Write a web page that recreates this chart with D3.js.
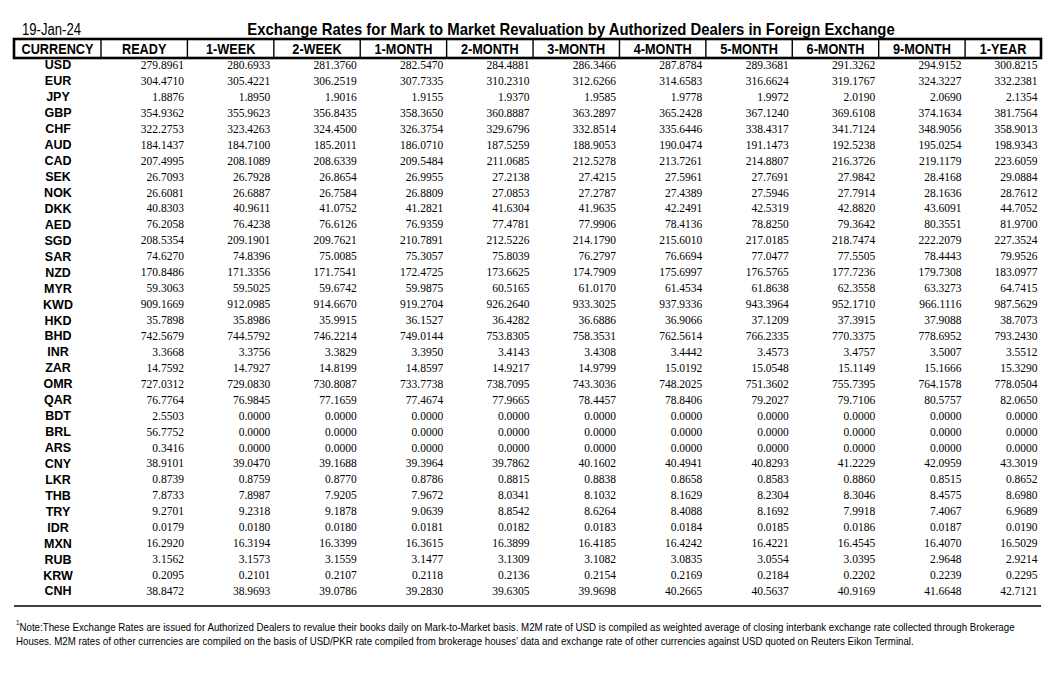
<!DOCTYPE html>
<html>
<head>
<meta charset="utf-8">
<script src="https://cdn.jsdelivr.net/npm/d3@7"></script>
<style>
  html, body { margin: 0; padding: 0; background: #fff; }
  svg { display: block; }
</style>
</head>
<body>
<svg id="chart" width="1064" height="681"></svg>
<script>
const dateLabel = "19-Jan-24";
const title = "Exchange Rates for Mark to Market Revaluation by Authorized Dealers in Foreign Exchange";
const firstHeader = "CURRENCY";
const tenors = ["READY","1-WEEK","2-WEEK","1-MONTH","2-MONTH","3-MONTH","4-MONTH","5-MONTH","6-MONTH","9-MONTH","1-YEAR"];
const currencies = ["USD","EUR","JPY","GBP","CHF","AUD","CAD","SEK","NOK","DKK","AED","SGD","SAR","NZD","MYR","KWD","HKD","BHD","INR","ZAR","OMR","QAR","BDT","BRL","ARS","CNY","LKR","THB","TRY","IDR","MXN","RUB","KRW","CNH"];

const ready   = [279.8961,304.4710,1.8876,354.9362,322.2753,184.1437,207.4995,26.7093,26.6081,40.8303,76.2058,208.5354,74.6270,170.8486,59.3063,909.1669,35.7898,742.5679,3.3668,14.7592,727.0312,76.7764,2.5503,56.7752,0.3416,38.9101,0.8739,7.8733,9.2701,0.0179,16.2920,3.1562,0.2095,38.8472];
const week1   = [280.6933,305.4221,1.8950,355.9623,323.4263,184.7100,208.1089,26.7928,26.6887,40.9611,76.4238,209.1901,74.8396,171.3356,59.5025,912.0985,35.8986,744.5792,3.3756,14.7927,729.0830,76.9845,0,0,0,39.0470,0.8759,7.8987,9.2318,0.0180,16.3194,3.1573,0.2101,38.9693];
const week2   = [281.3760,306.2519,1.9016,356.8435,324.4500,185.2011,208.6339,26.8654,26.7584,41.0752,76.6126,209.7621,75.0085,171.7541,59.6742,914.6670,35.9915,746.2214,3.3829,14.8199,730.8087,77.1659,0,0,0,39.1688,0.8770,7.9205,9.1878,0.0180,16.3399,3.1559,0.2107,39.0786];
const month1  = [282.5470,307.7335,1.9155,358.3650,326.3754,186.0710,209.5484,26.9955,26.8809,41.2821,76.9359,210.7891,75.3057,172.4725,59.9875,919.2704,36.1527,749.0144,3.3950,14.8597,733.7738,77.4674,0,0,0,39.3964,0.8786,7.9672,9.0639,0.0181,16.3615,3.1477,0.2118,39.2830];
const month2  = [284.4881,310.2310,1.9370,360.8887,329.6796,187.5259,211.0685,27.2138,27.0853,41.6304,77.4781,212.5226,75.8039,173.6625,60.5165,926.2640,36.4282,753.8305,3.4143,14.9217,738.7095,77.9665,0,0,0,39.7862,0.8815,8.0341,8.8542,0.0182,16.3899,3.1309,0.2136,39.6305];
const month3  = [286.3466,312.6266,1.9585,363.2897,332.8514,188.9053,212.5278,27.4215,27.2787,41.9635,77.9906,214.1790,76.2797,174.7909,61.0170,933.3025,36.6886,758.3531,3.4308,14.9799,743.3036,78.4457,0,0,0,40.1602,0.8838,8.1032,8.6264,0.0183,16.4185,3.1082,0.2154,39.9698];
const month4  = [287.8784,314.6583,1.9778,365.2428,335.6446,190.0474,213.7261,27.5961,27.4389,42.2491,78.4136,215.6010,76.6694,175.6997,61.4534,937.9336,36.9066,762.5614,3.4442,15.0192,748.2025,78.8406,0,0,0,40.4941,0.8658,8.1629,8.4088,0.0184,16.4242,3.0835,0.2169,40.2665];
const month5  = [289.3681,316.6624,1.9972,367.1240,338.4317,191.1473,214.8807,27.7691,27.5946,42.5319,78.8250,217.0185,77.0477,176.5765,61.8638,943.3964,37.1209,766.2335,3.4573,15.0548,751.3602,79.2027,0,0,0,40.8293,0.8583,8.2304,8.1692,0.0185,16.4221,3.0554,0.2184,40.5637];
const month6  = [291.3262,319.1767,2.0190,369.6108,341.7124,192.5238,216.3726,27.9842,27.7914,42.8820,79.3642,218.7474,77.5505,177.7236,62.3558,952.1710,37.3915,770.3375,3.4757,15.1149,755.7395,79.7106,0,0,0,41.2229,0.8860,8.3046,7.9918,0.0186,16.4545,3.0395,0.2202,40.9169];
const month9  = [294.9152,324.3227,2.0690,374.1634,348.9056,195.0254,219.1179,28.4168,28.1636,43.6091,80.3551,222.2079,78.4443,179.7308,63.3273,966.1116,37.9088,778.6952,3.5007,15.1666,764.1578,80.5757,0,0,0,42.0959,0.8515,8.4575,7.4067,0.0187,16.4070,2.9648,0.2239,41.6648];
const year1   = [300.8215,332.2381,2.1354,381.7564,358.9013,198.9343,223.6059,29.0884,28.7612,44.7052,81.9700,227.3524,79.9526,183.0977,64.7415,987.5629,38.7073,793.2430,3.5512,15.3290,778.0504,82.0650,0,0,0,43.3019,0.8652,8.6980,6.9689,0.0190,16.5029,2.9214,0.2295,42.7121];

const noteLine1 = "Note:These Exchange Rates are issued for Authorized Dealers to revalue their books daily on Mark-to-Market basis. M2M rate of USD is compiled as weighted average of closing interbank exchange rate collected through Brokerage";
const noteLine2 = "Houses. M2M rates of other currencies are compiled on the basis of USD/PKR rate compiled from brokerage houses\u2019 data and exchange rate of other currencies against USD quoted on Reuters Eikon Terminal.";

const seriesList = [ready, week1, week2, month1, month2, month3, month4, month5, month6, month9, year1];

const svg = d3.select("#chart");
const sans = "'Liberation Sans', Arial, sans-serif";
const serif = "'Liberation Serif', 'Times New Roman', serif";
const condense = 0.82;

const tableLeft = 14, tableRight = 1041, firstColRight = 101;
const headTop = 39, headBottom = 58;

const x = d3.scaleBand().domain(tenors).range([firstColRight, 1051.5]).padding(0);
const colLeft = t => x(t);
const colRight = t => Math.min(x(t) + x.bandwidth(), tableRight);

const y = d3.scaleBand().domain(currencies).range([57, 57 + currencies.length * 15.94]);
const yc = c => y(c) + y.bandwidth() / 2;

// condensed text helper: anchor point (px,py), horizontally scaled
function narrowText(parent, px, py, txt, size, weight, anchor, sx) {
  return parent.append("text")
    .attr("transform", `translate(${px},${py}) scale(${sx || condense},1)`)
    .attr("dy", "0.36em").attr("text-anchor", anchor || "start")
    .style("font-family", sans).style("font-size", size + "px")
    .style("font-weight", weight || "normal").text(txt);
}
// fit a text to a given width by horizontal scaling
function fitText(parent, px, py, txt, size, weight, anchor, width) {
  const t = parent.append("text").attr("x", 0).attr("y", 0).attr("dy", "0.36em")
    .attr("text-anchor", anchor || "start")
    .style("font-family", sans).style("font-size", size + "px")
    .style("font-weight", weight || "normal").text(txt);
  const w = t.node().getComputedTextLength();
  t.attr("transform", `translate(${px},${py}) scale(${width / w},1)`);
  return t;
}

// Date + title
narrowText(svg, 22, 29, dateLabel, 16, "normal", "start");
fitText(svg, 571, 29, title, 16, "bold", "middle", 648);

// Header box
const head = svg.append("g");
head.append("rect").attr("x", tableLeft).attr("y", headTop)
  .attr("width", tableRight - tableLeft).attr("height", headBottom - headTop)
  .attr("fill", "none").attr("stroke", "#000").attr("stroke-width", 2.6);
head.selectAll("line.div").data(tenors).join("line").attr("class", "div")
  .attr("x1", d => colLeft(d)).attr("x2", d => colLeft(d))
  .attr("y1", headTop).attr("y2", headBottom + 1)
  .attr("stroke", "#000").attr("stroke-width", 1.4);
const hy = (headTop + headBottom) / 2;
narrowText(head, (tableLeft + firstColRight) / 2, hy, firstHeader, 15.5, "bold", "middle");
tenors.forEach(t => narrowText(head, (colLeft(t) + colRight(t)) / 2, hy, t, 15.5, "bold", "middle"));

// Currency labels
svg.append("g").selectAll("text").data(currencies).join("text")
  .attr("x", 58).attr("y", d => yc(d)).attr("dy", "0.36em").attr("text-anchor", "middle")
  .style("font-family", sans).style("font-size", "12.5px").style("font-weight", "bold").text(d => d);

// Values
const cells = [];
tenors.forEach((t, j) => {
  currencies.forEach((c, i) => cells.push({t, c, v: seriesList[j][i]}));
});
svg.append("g").selectAll("text").data(cells).join("text")
  .attr("x", d => colRight(d.t) - 3.5).attr("y", d => yc(d.c)).attr("dy", "0.35em")
  .attr("text-anchor", "end")
  .style("font-family", serif).style("font-size", "11.5px")
  .text(d => d3.format(".4f")(d.v));

// Bottom rule
svg.append("line").attr("x1", tableLeft).attr("x2", tableRight).attr("y1", 606).attr("y2", 606)
  .attr("stroke", "#000").attr("stroke-width", 1.6);

// Footnote
const note = svg.append("g");
note.append("text").attr("x", 16).attr("y", 625)
  .style("font-family", sans).style("font-size", "6.5px").text("1");
fitText(note, 19.5, 627, noteLine1, 10.5, "normal", "start", 996);
fitText(note, 16, 641, noteLine2, 10.5, "normal", "start", 897);
</script>
</body>
</html>
